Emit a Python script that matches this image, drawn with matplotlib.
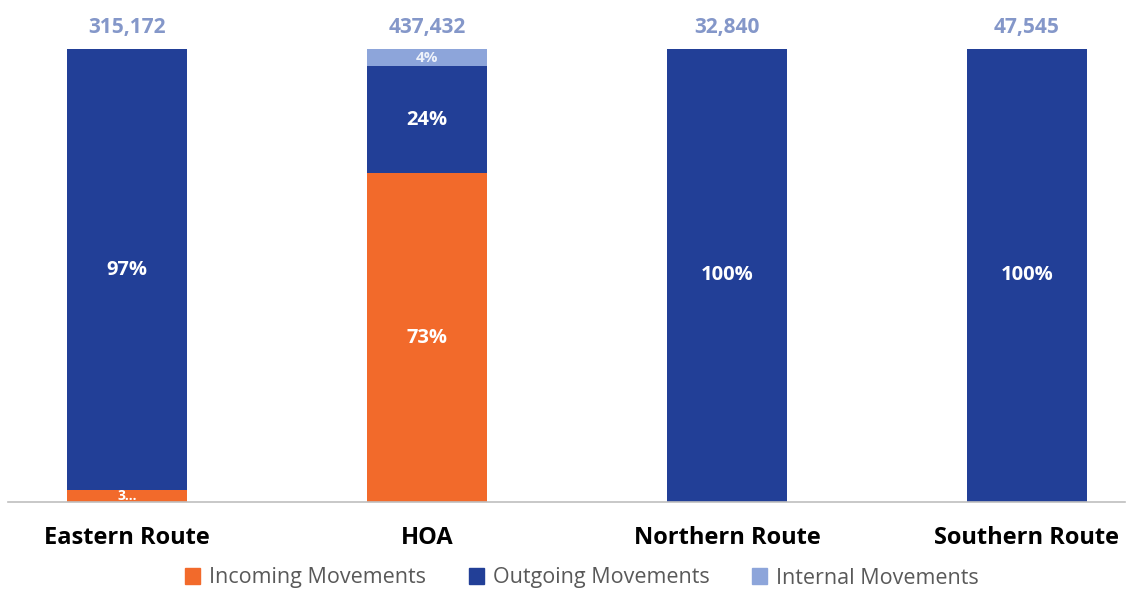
import matplotlib
matplotlib.use("Agg")
import matplotlib.pyplot as plt
from matplotlib.patches import Patch

categories = ["Eastern Route", "HOA", "Northern Route", "Southern Route"]
totals = ["315,172", "437,432", "32,840", "47,545"]
incoming = [2.6, 72.6, 0, 0]
outgoing = [97.4, 23.6, 100, 100]
internal = [0, 3.8, 0, 0]
incoming_labels = ["3...", "73%", "", ""]
outgoing_labels = ["97%", "24%", "100%", "100%"]
internal_labels = ["", "4%", "", ""]

c_in = "#F26A2B"
c_out = "#223F97"
c_int = "#8DA5DA"

plt.rcParams['font.family'] = ['Open Sans', 'DejaVu Sans']

fig = plt.figure(figsize=(11.32, 5.9), dpi=100)
ax = fig.add_axes([8/1132, 1-502/590, (1125-8)/1132, (502-49)/590])

x = list(range(len(categories)))
w = 0.4
ax.bar(x, incoming, w, color=c_in, label="Incoming Movements")
bot2 = incoming
ax.bar(x, outgoing, w, bottom=bot2, color=c_out, label="Outgoing Movements")
bot3 = [a + b for a, b in zip(incoming, outgoing)]
ax.bar(x, internal, w, bottom=bot3, color=c_int, label="Internal Movements")

for i in x:
    if incoming_labels[i]:
        ax.text(i, incoming[i]/2, incoming_labels[i], ha='center', va='center',
                color='white', fontsize=14.5 if incoming[i] > 10 else 10, fontweight='bold')
    if outgoing_labels[i]:
        ax.text(i, bot2[i] + outgoing[i]/2, outgoing_labels[i], ha='center', va='center',
                color='white', fontsize=14.5, fontweight='bold')
    if internal_labels[i]:
        ax.text(i, bot3[i] + internal[i]/2, internal_labels[i], ha='center', va='center',
                color='#EEF2FA', fontsize=11, fontweight='bold')
    top = bot3[i] + internal[i]
    ax.annotate(totals[i], (i, top), xytext=(0, 15.5), textcoords='offset points',
                ha='center', va='center', color='#8497C9', fontsize=15, fontweight='bold')

ax.set_xlim(-0.397, 3.327)
ax.set_ylim(0, 100)
ax.set_yticks([])
ax.set_xticks(x)
ax.set_xticklabels(categories, fontsize=17, fontweight='bold', color='black')
ax.tick_params(axis='x', length=0, pad=17)
for s in ['top', 'right', 'left']:
    ax.spines[s].set_visible(False)
ax.spines['bottom'].set_color('#BFBFBF')
ax.spines['bottom'].set_linewidth(1.2)

handles = [Patch(color=c_in), Patch(color=c_out), Patch(color=c_int)]
fig.legend(handles, ["Incoming Movements", "Outgoing Movements", "Internal Movements"],
           loc='center', bbox_to_anchor=(582/1132, 1-578/590), ncol=3, frameon=False,
           fontsize=15.5, labelcolor='#595959', handlelength=0.7, handleheight=0.7,
           handletextpad=0.4, columnspacing=2.0)

fig.savefig("out.png", dpi=100)
